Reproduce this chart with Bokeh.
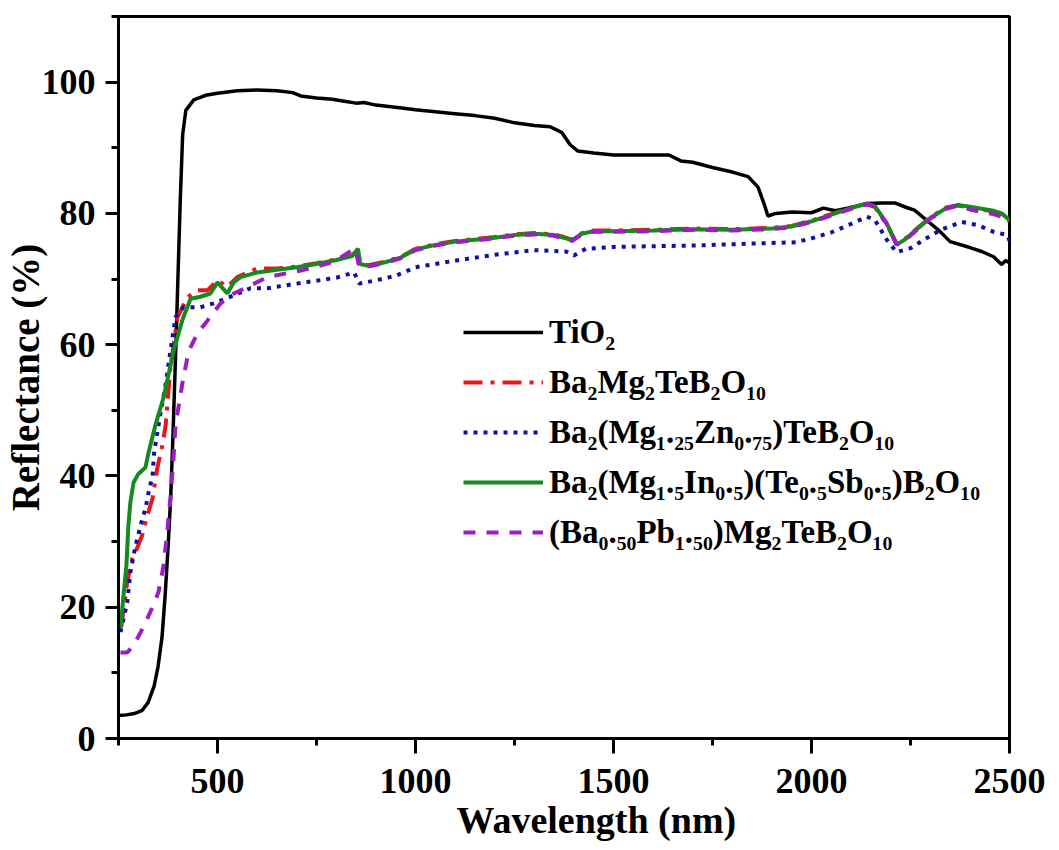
from bokeh.plotting import figure
from bokeh.models import (SingleIntervalTicker, Legend, LegendItem, Title)
from bokeh.embed import file_html
from bokeh.resources import INLINE

# ---------------- data ----------------
tio2_x = [250, 270, 290, 310, 325, 340, 350, 360, 368, 375, 382, 388, 395, 400, 406, 412, 420, 440, 470, 500,
          550, 600, 650, 690, 710, 750, 790, 820, 850, 870, 900, 960, 1000, 1050, 1100, 1150, 1200, 1250, 1300, 1340,
          1370, 1390, 1410, 1450, 1500, 1550, 1600, 1640, 1670, 1700, 1750, 1800, 1840, 1865, 1880, 1890, 1910, 1950, 2000, 2030,
          2060, 2100, 2140, 2180, 2210, 2240, 2260, 2290, 2320, 2350, 2400, 2430, 2460, 2480, 2490, 2500]
tio2_y = [3.5, 3.6, 3.8, 4.3, 5.5, 8.0, 11.0, 15.5, 22.0, 29.0, 37.0, 47.0, 60.0, 70.0, 82.0, 92.0, 95.7, 97.3, 98.0, 98.3,
          98.7, 98.8, 98.7, 98.4, 97.9, 97.6, 97.4, 97.1, 96.8, 96.9, 96.5, 96.1, 95.8, 95.5, 95.2, 94.9, 94.5, 93.8, 93.4, 93.2,
          92.3, 90.5, 89.5, 89.2, 88.9, 88.9, 88.9, 88.9, 88.0, 87.8, 87.0, 86.3, 85.6, 84.0, 81.5, 79.6, 80.0, 80.2, 80.1, 80.8,
          80.4, 80.9, 81.5, 81.6, 81.6, 80.9, 80.5, 79.0, 77.5, 75.7, 74.8, 74.2, 73.4, 72.2, 72.8, 72.5]

bmt_x = [257, 272, 285, 297, 310, 323, 336, 348, 361, 369, 381, 399, 424, 449, 475, 500, 525, 550, 600, 650,
         700, 750, 800, 840, 855, 860, 880, 920, 960, 1000, 1050, 1100, 1150, 1200, 1250, 1300, 1350, 1375, 1395, 1420,
         1450, 1500, 1600, 1700, 1800, 1900, 1950, 2000, 2050, 2100, 2140, 2160, 2190, 2215, 2240, 2270, 2300, 2340, 2370, 2400,
         2430, 2460, 2480, 2500]
bmt_y = [17.0, 23.8, 27.4, 29.0, 31.0, 34.0, 36.6, 41.2, 44.7, 47.7, 56.6, 64.2, 67.2, 68.3, 68.3, 69.8, 68.8, 70.3, 71.6, 71.6,
         71.9, 72.4, 73.0, 73.6, 74.5, 72.4, 72.1, 72.6, 73.3, 74.6, 75.3, 75.8, 76.1, 76.4, 76.8, 77.0, 76.8, 76.4, 76.0, 77.0,
         77.4, 77.4, 77.5, 77.7, 77.6, 77.8, 78.1, 78.9, 79.9, 80.9, 81.4, 81.0, 78.3, 75.4, 76.3, 77.9, 79.4, 80.9, 81.2, 80.9,
         80.6, 80.3, 79.8, 78.8]

zn_x = [255, 272, 280, 293, 306, 318, 326, 336, 340, 351, 369, 381, 394, 414, 457, 490, 541, 583, 626, 700,
        800, 845, 858, 900, 950, 1000, 1100, 1200, 1300, 1380, 1400, 1430, 1500, 1600, 1700, 1800, 1900, 1960, 2000, 2050,
        2100, 2140, 2160, 2190, 2215, 2250, 2290, 2330, 2380, 2420, 2460, 2480, 2495, 2500]
zn_y = [16.2, 20.7, 25.3, 29.4, 32.5, 35.0, 37.5, 40.0, 43.6, 47.7, 54.0, 59.0, 64.2, 65.7, 65.7, 66.3, 67.5, 68.6, 68.6, 69.3,
        70.2, 71.0, 69.3, 69.8, 70.5, 71.8, 72.8, 73.7, 74.4, 74.2, 73.6, 74.6, 74.9, 75.0, 75.1, 75.3, 75.5, 75.6, 76.2, 77.1,
        78.4, 79.5, 79.0, 76.0, 74.1, 74.7, 76.2, 77.6, 78.7, 78.2, 77.2, 76.9, 76.7, 75.8]

insb_x = [255, 263, 270, 275, 280, 288, 300, 318, 326, 343, 364, 389, 411, 432, 457, 482, 500, 525, 541, 558,
          600, 650, 700, 750, 800, 840, 855, 860, 880, 920, 960, 1000, 1050, 1100, 1150, 1200, 1250, 1300, 1350, 1375,
          1395, 1420, 1450, 1500, 1600, 1700, 1800, 1900, 1950, 2000, 2050, 2100, 2140, 2160, 2190, 2215, 2240, 2270, 2300, 2340,
          2370, 2400, 2430, 2460, 2480, 2500]
insb_y = [16.8, 22.0, 26.4, 32.5, 36.0, 39.0, 40.3, 41.3, 43.6, 47.7, 52.0, 59.0, 63.7, 67.0, 67.3, 67.8, 69.5, 67.8, 69.5, 70.3,
          71.0, 71.4, 71.8, 72.3, 72.9, 73.5, 74.6, 72.3, 72.0, 72.5, 73.2, 74.5, 75.2, 75.7, 76.0, 76.3, 76.7, 76.9, 76.7, 76.3,
          75.9, 76.9, 77.3, 77.3, 77.4, 77.6, 77.5, 77.7, 78.0, 78.8, 79.8, 80.8, 81.5, 81.1, 78.5, 75.2, 76.2, 77.8, 79.3, 80.8,
          81.3, 81.0, 80.7, 80.4, 80.0, 79.0]

pb_x = [255, 272, 288, 306, 323, 338, 351, 364, 373, 381, 389, 394, 411, 427, 449, 475, 508, 541, 576, 626,
        710, 793, 848, 858, 880, 920, 960, 1000, 1050, 1100, 1150, 1200, 1250, 1300, 1350, 1375, 1395, 1420, 1450, 1500,
        1600, 1700, 1800, 1900, 1950, 2000, 2050, 2100, 2140, 2160, 2190, 2215, 2240, 2270, 2300, 2340, 2370, 2400, 2430, 2460,
        2480, 2500]
pb_y = [13.1, 13.1, 14.2, 16.2, 18.3, 20.3, 22.3, 26.4, 31.4, 36.6, 42.7, 47.7, 54.0, 59.0, 61.7, 63.7, 66.3, 67.8, 68.8, 70.3,
        71.3, 72.6, 74.7, 71.8, 71.9, 72.4, 73.1, 74.4, 75.1, 75.6, 75.9, 76.2, 76.6, 76.8, 76.6, 76.2, 75.8, 76.8, 77.2, 77.2,
        77.3, 77.5, 77.4, 77.6, 77.9, 78.7, 79.7, 80.7, 81.4, 81.0, 78.4, 75.3, 76.1, 77.7, 79.2, 80.7, 81.2, 80.6, 80.2, 79.9,
        79.5, 78.6]

series_labels = ["TiO\u2082",
                 "Ba\u2082Mg\u2082TeB\u2082O\u2081\u2080",
                 "Ba\u2082(Mg\u2081.\u2082\u2085Zn\u2080.\u2087\u2085)TeB\u2082O\u2081\u2080",
                 "Ba\u2082(Mg\u2081.\u2085In\u2080.\u2085)(Te\u2080.\u2085Sb\u2080.\u2085)B\u2082O\u2081\u2080",
                 "(Ba\u2080.\u2085\u2080Pb\u2081.\u2085\u2080)Mg\u2082TeB\u2082O\u2081\u2080"]

x_label = "Wavelength (nm)"
y_label = "Reflectance (%)"

FONT = "Liberation Serif"

p = figure(width=1059, height=850, x_range=(250, 2500), y_range=(0, 110),
           output_backend="svg", toolbar_location=None, title=None,
           min_border_left=118, min_border_right=50, min_border_top=16, min_border_bottom=112)

r_tio2 = p.line(tio2_x, tio2_y, line_color="black", line_width=3.5)
r_bmt = p.line(bmt_x, bmt_y, line_color="#e8161a", line_width=4, line_dash="19 8 4 8")
r_zn = p.line(zn_x, zn_y, line_color="#1010a8", line_width=4, line_dash="4 6")
r_insb = p.line(insb_x, insb_y, line_color="#168a1e", line_width=4)
r_pb = p.line(pb_x, pb_y, line_color="#9a1ec4", line_width=4, line_dash="12 11")

legend = Legend(items=[LegendItem(label=series_labels[0], renderers=[r_tio2]),
                       LegendItem(label=series_labels[1], renderers=[r_bmt]),
                       LegendItem(label=series_labels[2], renderers=[r_zn]),
                       LegendItem(label=series_labels[3], renderers=[r_insb]),
                       LegendItem(label=series_labels[4], renderers=[r_pb])],
                location=(345, 184))
legend.glyph_width = 80
legend.glyph_height = 44
legend.label_height = 44
legend.label_standoff = 6
legend.spacing = 6
legend.padding = 0
legend.margin = 0
legend.border_line_alpha = 0
legend.background_fill_alpha = 0
legend.label_text_font = FONT
legend.label_text_font_style = "bold"
legend.label_text_font_size = "33px"
legend.label_text_color = "black"
p.add_layout(legend, "center")

p.xgrid.visible = False
p.ygrid.visible = False
p.outline_line_color = "black"
p.outline_line_width = 3
p.background_fill_color = "white"
p.border_fill_color = "white"

p.xaxis.ticker = SingleIntervalTicker(interval=500, num_minor_ticks=2)
p.yaxis.ticker = SingleIntervalTicker(interval=20, num_minor_ticks=2)

for ax in (p.xaxis[0], p.yaxis[0]):
    ax.axis_line_width = 3
    ax.axis_line_color = "black"
    ax.major_tick_in = 0
    ax.minor_tick_in = 0
    ax.minor_tick_out = 7
    ax.major_tick_line_width = 3
    ax.minor_tick_line_width = 3
    ax.major_tick_line_color = "black"
    ax.minor_tick_line_color = "black"
    ax.major_label_text_font = FONT
    ax.major_label_text_font_style = "bold"
    ax.major_label_text_font_size = "36px"
    ax.major_label_text_color = "black"

p.xaxis.major_tick_out = 15
p.yaxis.major_tick_out = 13
p.xaxis.major_label_standoff = 15
p.yaxis.major_label_standoff = 10

p.yaxis.axis_label = y_label
p.yaxis.axis_label_text_font = FONT
p.yaxis.axis_label_text_font_style = "bold"
p.yaxis.axis_label_text_font_size = "39px"
p.yaxis.axis_label_text_color = "black"
p.yaxis.axis_label_standoff = -8

xt = Title(text=x_label, align="left", offset=338, vertical_align="top",
           text_font=FONT, text_font_style="bold",
           text_font_size="38px", text_color="black", standoff=6)
p.add_layout(xt, "below")

open("out.html", "w").write(file_html(p, INLINE))
